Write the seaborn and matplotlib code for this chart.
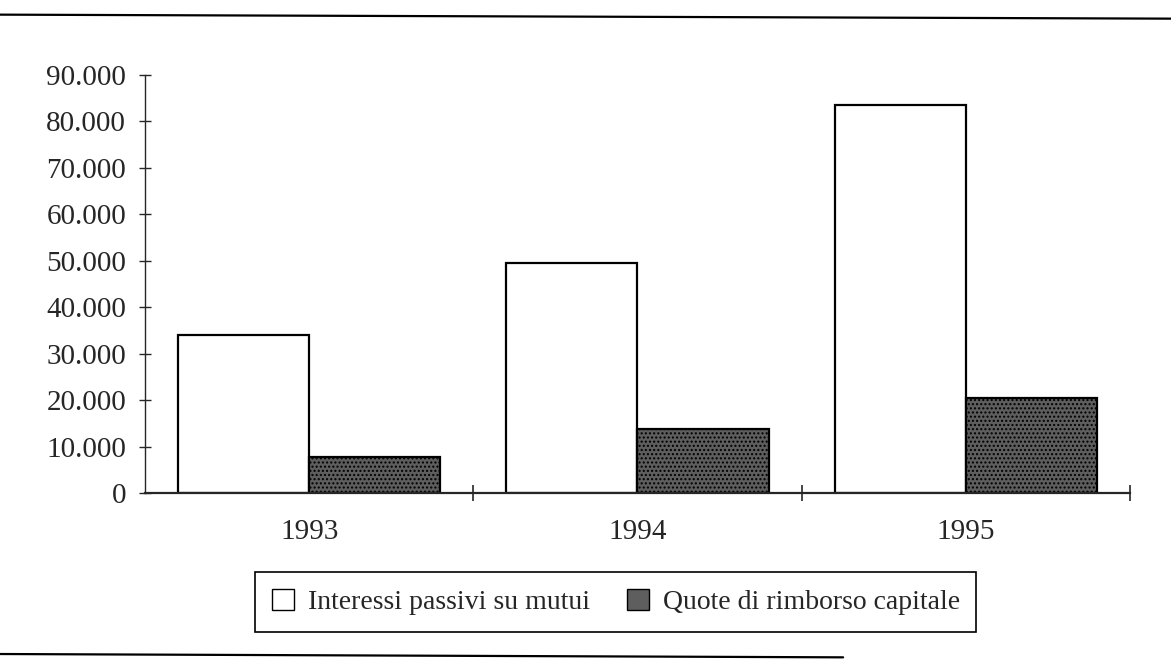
import pandas as pd
import matplotlib
matplotlib.use("Agg")
import matplotlib.pyplot as plt
import seaborn as sns
from matplotlib.lines import Line2D
from matplotlib.ticker import FuncFormatter, FixedLocator

# Data
anni = ["1993", "1994", "1995"]
interessi = [34000, 49600, 83500]
quote = [7800, 13800, 20500]
serie = ["Interessi passivi su mutui", "Quote di rimborso capitale"]

sns.set_style("white")
plt.rcParams["font.family"] = ["Liberation Serif", "DejaVu Serif"]


def main():
    df = pd.DataFrame({
        "Anno": anni * 2,
        "Valore": interessi + quote,
        "Voce": [serie[0]] * 3 + [serie[1]] * 3,
    })

    fig = plt.figure(figsize=(11.71, 6.66), dpi=100)
    ax = fig.add_axes([0.1238, 0.2598, 0.8412, 0.6276])

    sns.barplot(data=df, x="Anno", y="Valore", hue="Voce", hue_order=serie,
                palette=["white", "#5e5e5e"], edgecolor="black", linewidth=1.6,
                width=0.8, saturation=1, ax=ax)

    # stippled look for the second series
    for bar in ax.containers[1]:
        bar.set_hatch("....")

    ax.set_xlim(-0.5, 2.5)
    ax.set_ylim(0, 90000)
    ax.set_yticks(range(0, 90001, 10000))
    ax.yaxis.set_major_formatter(FuncFormatter(lambda v, p: f"{int(v):,}".replace(",", ".")))
    ax.set_xlabel("")
    ax.set_ylabel("")

    for s in ["top", "right"]:
        ax.spines[s].set_visible(False)
    ax.spines["left"].set_linewidth(1.0)
    ax.spines["bottom"].set_linewidth(1.6)

    ax.tick_params(axis="y", direction="inout", length=9, width=1, pad=9,
                   labelsize=21, left=True)
    ax.tick_params(axis="x", which="major", length=0, pad=19, labelsize=21)
    ax.xaxis.set_minor_locator(FixedLocator([0.5, 1.5, 2.5]))
    ax.tick_params(axis="x", which="minor", direction="inout", length=12,
                   width=1.2, bottom=True)

    handles, labels = ax.get_legend_handles_labels()
    ax.get_legend().remove()
    leg = fig.legend(handles, labels, loc="center", bbox_to_anchor=(0.526, 0.096),
                     ncol=2, fontsize=20, frameon=True, fancybox=False,
                     edgecolor="black", framealpha=1, borderpad=0.6,
                     columnspacing=1.3, handlelength=0.8, handleheight=0.8,
                     handletextpad=0.5, borderaxespad=0)
    leg.get_frame().set_linewidth(1.2)
    for h in leg.legend_handles:
        h.set_linewidth(1.0)

    # frame lines of the scanned page
    fig.add_artist(Line2D([0, 1], [0.978, 0.972], color="black", lw=1.6,
                          transform=fig.transFigure))
    fig.add_artist(Line2D([0, 0.72], [0.018, 0.013], color="black", lw=1.6,
                          transform=fig.transFigure))

    fig.savefig("out.png", dpi=100)


if __name__ == "__main__":
    main()
